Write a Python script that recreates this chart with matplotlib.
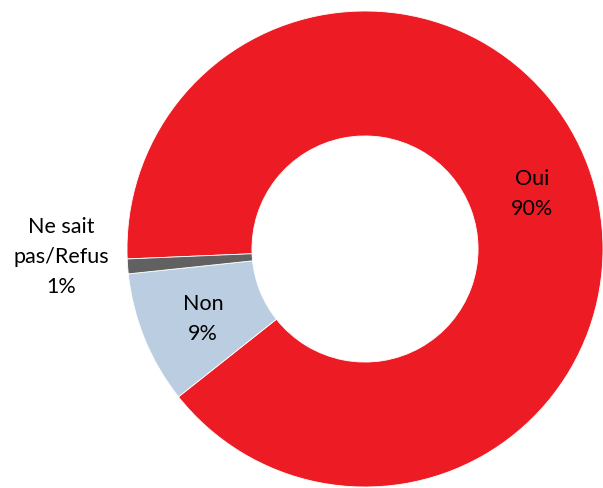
import matplotlib
matplotlib.use("Agg")
import matplotlib.pyplot as plt

labels = ["Oui", "Non", "Ne sait\npas/Refus"]
shares = [90, 9, 1]
colors = ["#ED1C24", "#BBCDE0", "#616161"]

W, H = 603, 489
fig = plt.figure(figsize=(W / 100, H / 100), dpi=100)
ax = fig.add_axes([0, 0, 1, 1])

cx, cy, r_out = 365, 250, 238
wedges, _ = ax.pie(shares, colors=colors, startangle=-182.4, counterclock=True,
                   center=(cx, cy), radius=r_out, frame=True,
                   wedgeprops=dict(width=r_out * 0.525, edgecolor="white", linewidth=0.6))
ax.set_xlim(0, W)
ax.set_ylim(H, 0)
ax.set_aspect("equal")
ax.axis("off")

font = dict(family=["Lato", "DejaVu Sans"], fontsize=15.5, color="black",
            ha="center", va="center", linespacing=1.65)
label_pos = [(532, 194), (203, 319), (61, 257)]
for lab, val, (x, y) in zip(labels, shares, label_pos):
    ax.text(x, y, f"{lab}\n{val}%", **font)

fig.savefig("out.png", dpi=100)
